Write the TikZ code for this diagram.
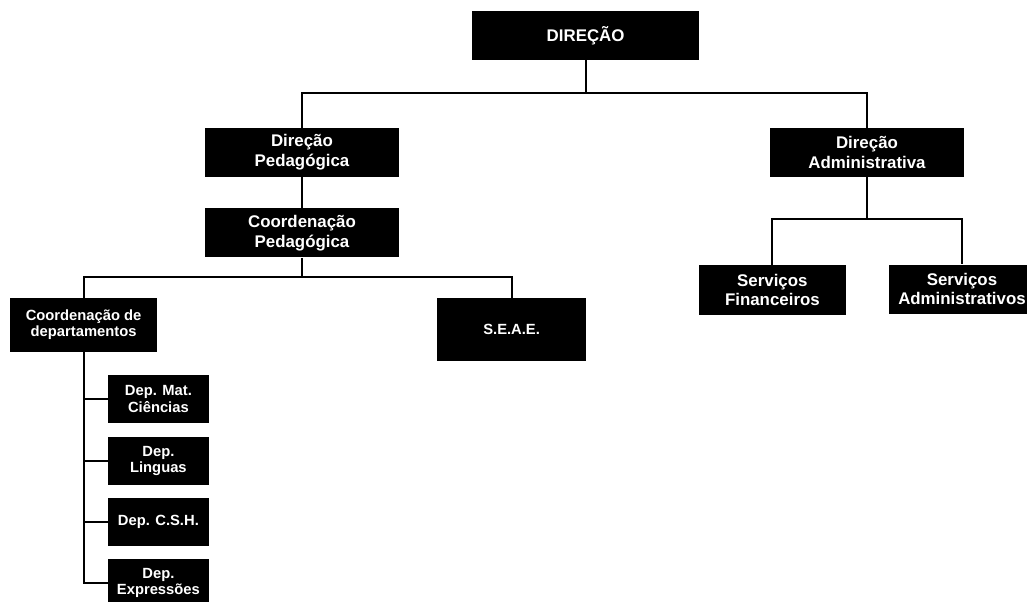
\documentclass[tikz,border=0pt]{standalone}
\usepackage{fontspec}
\setmainfont{Liberation Sans}
\usepackage{tikz}
\usetikzlibrary{positioning, calc}
\tikzset{
	orgbox/.style ={rectangle, fill=black, text=white, minimum width=4.85cm, minimum height=1.225cm, align=center, font=\bfseries\fontsize{12}{14}\selectfont},
	subbox/.style ={rectangle, fill=black, text=white, minimum width=3.675cm, minimum height=1.35cm, align=center, font=\bfseries\fontsize{10.5}{11.5}\selectfont},
	depbox/.style ={rectangle, fill=black, text=white, minimum width=2.525cm, minimum height=1.2cm, align=center, font=\bfseries\fontsize{10.5}{11.5}\selectfont},
	link/.style   ={line width=1.4pt, black},
}
\begin{document}
\begin{tikzpicture}
	\useasboundingbox (0,0) rectangle (25.675,-15.025);
	\node[orgbox, minimum width=5.675cm] (dir) at (14.64,-0.89) {DIREÇÃO};
	\node[orgbox] (dped) at (7.55,-3.81) {Direção\\ Pedagógica};
	\node[orgbox, below=0.775cm of dped] (cped) {Coordenação\\ Pedagógica};
	\node[orgbox] (dadm) at (21.675,-3.81) {Direção\\ Administrativa};
	\node[orgbox, minimum width=3.675cm, minimum height=1.25cm] (sfin) at (19.31,-7.25) {Serviços\\ Financeiros};
	\node[orgbox, minimum width=3.675cm] (sadm) at (24.05,-7.225) {Serviços\\ Administrativos};
	\node[subbox] (cdep) at (2.09,-8.125) {Coordenação de\\ departamentos};
	\node[subbox, minimum width=3.725cm, minimum height=1.575cm] (seae) at (12.79,-8.24) {S.E.A.E.};
	\node[depbox] (d1) at (3.96,-9.975) {Dep. Mat.\\ Ciências};
	\node[depbox, below=0.325cm of d1] (d2) {Dep.\\ Linguas};
	\node[depbox, below=0.325cm of d2] (d3) {Dep. C.S.H.};
	\node[depbox, below=0.3cm of d3] (d4) {Dep.\\ Expressões};
	% bus levels
	\coordinate (bus1) at (0,-2.325);
	\coordinate (bus2) at (0,-6.925);
	\coordinate (bus3) at (0,-5.475);
	\draw[link] (dir.south) -- (dir.south |- bus1);
	\draw[link] (dped.north) |- (bus1 -| dadm.north) -- (dadm.north);
	\draw[link] (dped.south) -- (cped.north);
	\draw[link] (cped.south) -- (cped.south |- bus2);
	\draw[link] (cdep.north) |- (bus2 -| seae.north) -- (seae.north);
	\draw[link] (dadm.south) -- (dadm.south |- bus3);
	\draw[link] (sfin.north) |- (bus3 -| sadm.north) -- (sadm.north);
	\draw[link] (cdep.south) |- (d4.west);
	\foreach \d in {d1,d2,d3}
		\draw[link] (cdep.south |- \d.west) -- (\d.west);
\end{tikzpicture}
\end{document}
